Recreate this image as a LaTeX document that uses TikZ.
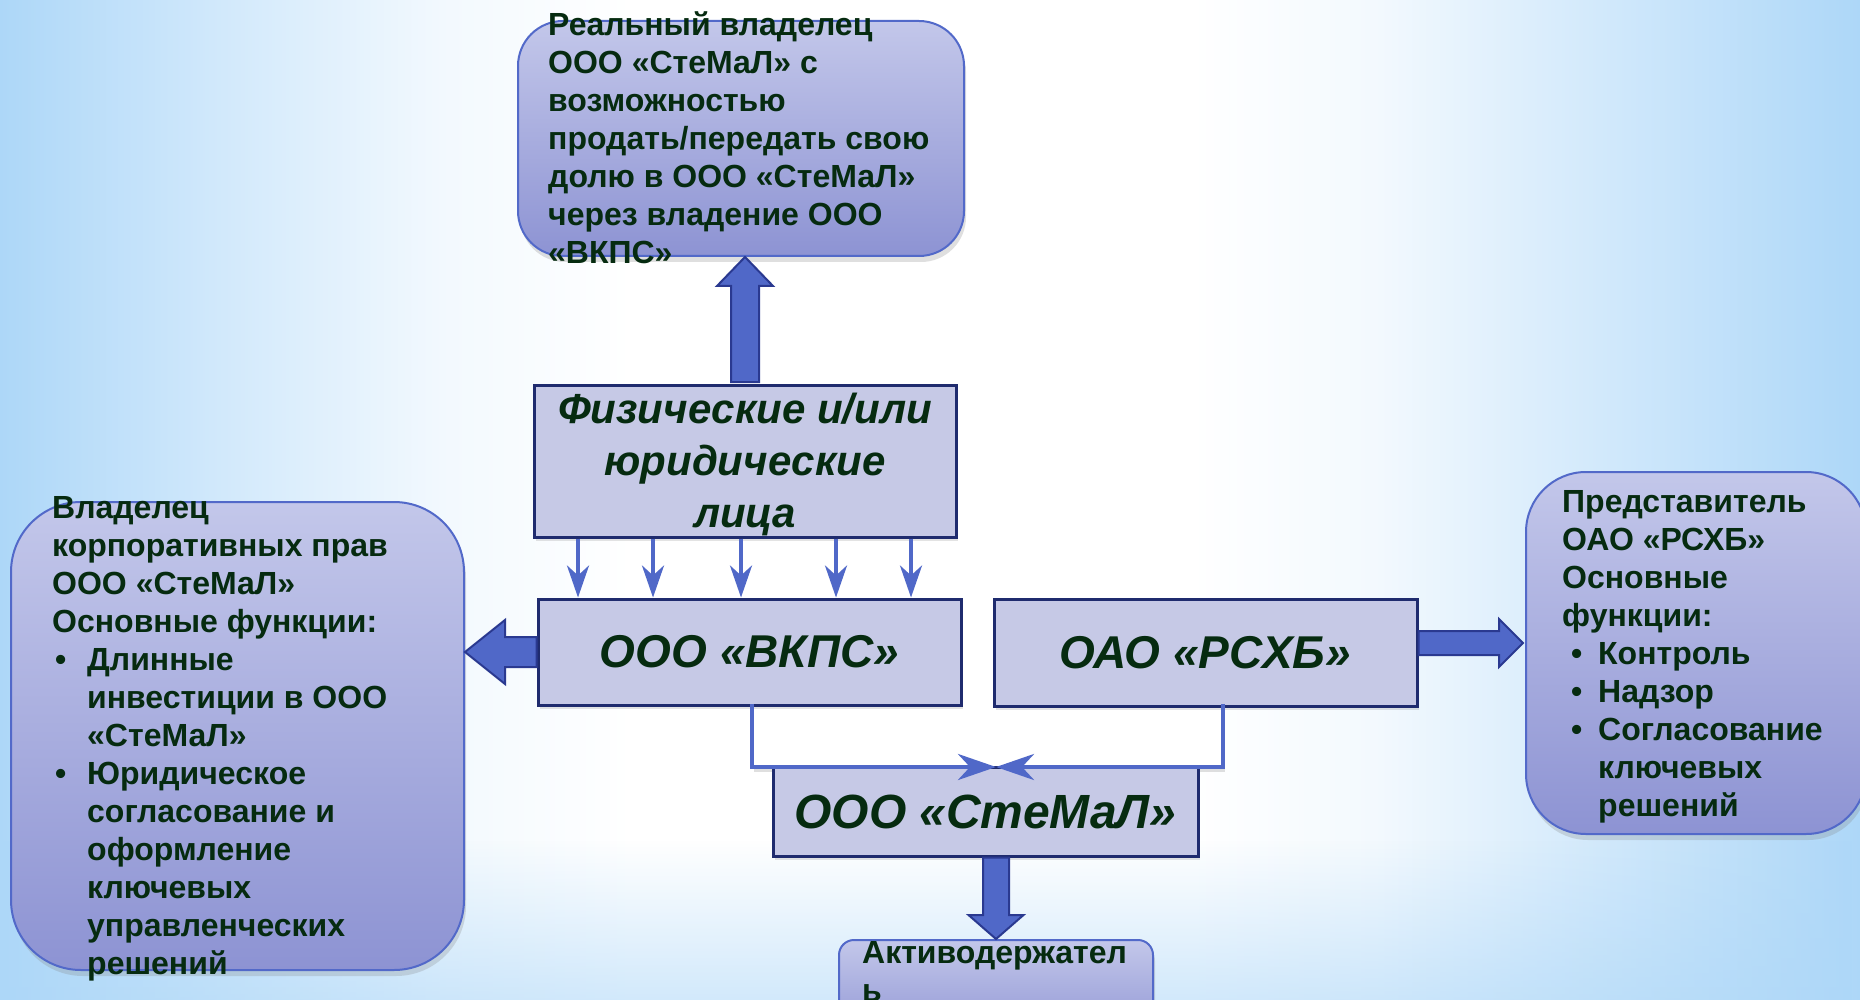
\documentclass[tikz,border=0pt]{standalone}
\usepackage{fontspec}
\setmainfont{Liberation Sans}
\usetikzlibrary{arrows.meta,shadows,calc,fadings}
\definecolor{bgb}{HTML}{ADD7F8}
\definecolor{rectfill}{HTML}{C6C9E6}
\definecolor{rectborder}{HTML}{1F2B6E}
\definecolor{rtop}{HTML}{C3C7EA}
\definecolor{rbot}{HTML}{8D93D3}
\definecolor{rborder}{HTML}{5269C9}
\definecolor{afill}{HTML}{5068C8}
\definecolor{aborder}{HTML}{2A3990}
\definecolor{txt}{HTML}{062B10}
\colorlet{bgm}{bgb!55!white}
\colorlet{bgl}{bgb!15!white}
\pgfdeclarehorizontalshading{bgshade}{100bp}{color(0bp)=(bgb); color(25bp)=(bgb); color(31bp)=(bgm); color(37bp)=(bgl); color(42bp)=(white); color(57bp)=(white); color(62bp)=(bgl); color(68bp)=(bgm); color(75bp)=(bgb); color(100bp)=(bgb)}
\begin{document}
\begin{tikzpicture}[x=1pt,y=-1pt,
  rectbox/.style={draw=rectborder, line width=3pt, fill=rectfill, inner sep=0pt,
     drop shadow={shadow xshift=2pt, shadow yshift=-4pt, opacity=.22}},
  rbox/.style={draw=rborder, line width=2pt, top color=rtop, bottom color=rbot, inner sep=0pt,
     drop shadow={shadow xshift=2pt, shadow yshift=-6pt, opacity=.25}},
  big/.style={font=\fontsize{46}{54}\selectfont\bfseries\itshape, text=txt},
  body/.style={font=\fontsize{32}{38}\selectfont\bfseries, text=txt, align=left, inner sep=0pt, anchor=north west},
  barrow/.style={draw=aborder, line width=2pt, fill=afill, line join=miter},
  conn/.style={draw=afill, line width=4.5pt},
  tarrow/.style={draw=afill, line width=4pt, -{Stealth[length=32pt,width=22pt,inset=10pt]}},
  carrow/.style={draw=afill, line width=4.5pt, -{Stealth[length=38pt,width=26pt,inset=12pt]}}
]
\useasboundingbox (0,0) rectangle (1860,1000);
\begin{scope}
\clip (0,0) rectangle (1860,1000);
\shade[shading=bgshade] (0,0) rectangle (1860,1000);
\fill[bgb, opacity=.55, path fading=north] (0,840) rectangle (1860,1000);

% rounded boxes
\node[rbox, rounded corners=45pt, minimum width=446pt, minimum height=235pt] (top) at (741,138.5) {};
\node[rbox, rounded corners=70pt, minimum width=453pt, minimum height=468pt] (lbox) at (237.5,736) {};
\node[rbox, rounded corners=60pt, minimum width=340pt, minimum height=362pt] (rbox) at (1696,653) {};
\node[rbox, rounded corners=15pt, minimum width=314pt, minimum height=105pt] (akt) at (996,992.5) {};

% white area of bracket
\coordinate (b1) at (752,705);
\coordinate (b4) at (1223,767);
\fill[white, drop shadow={shadow xshift=2pt, shadow yshift=-5pt, opacity=.25}] (b1) rectangle (b4);

% rectangles
\node[rectbox, minimum width=422pt, minimum height=152pt] (fiz) at (745,461) {};
\node[font=\fontsize{42}{52}\selectfont\bfseries\itshape, text=txt, align=center, anchor=north, inner sep=0pt] (fiztext) at (745,386.6) {\strut Физические и/или\\юридические\\лица};
\node[rectbox, big, minimum width=423pt, minimum height=106pt] (vkps) at (749.5,652) {ООО «ВКПС»};
\node[rectbox, big, minimum width=423pt, minimum height=107pt] (rshb) at (1205.5,652.5) {ОАО «РСХБ»};
\node[rectbox, big, font=\fontsize{48}{56}\selectfont\bfseries\itshape, minimum width=425pt, minimum height=89pt] (stemal) at (985.5,811.5) {ООО «СтеМаЛ»};

% up block arrow
\coordinate (uT) at (fiz.north |- top.south);
\draw[barrow] ($(fiz.north)+(-14,-1.5)$) -- ($(uT)+(-14,29)$) -- ($(uT)+(-28,29)$) -- (uT) -- ($(uT)+(28,29)$) -- ($(uT)+(14,29)$) -- ($(fiz.north)+(14,-1.5)$) -- cycle;

% left block arrow
\coordinate (lT) at (lbox.east |- vkps.west);
\draw[barrow] ($(vkps.west)+(0,-15)$) -- ($(lT)+(40,-15)$) -- ($(lT)+(40,-32)$) -- (lT) -- ($(lT)+(40,32)$) -- ($(lT)+(40,15)$) -- ($(vkps.west)+(0,15)$) -- cycle;

% right block arrow
\coordinate (rS) at ($(rshb.east)+(0,-9.5)$);
\coordinate (rT) at ($(rbox.west |- rS)+(-2,0)$);
\draw[barrow] ($(rS)+(0,-12)$) -- ($(rT)+(-24,-12)$) -- ($(rT)+(-24,-24)$) -- (rT) -- ($(rT)+(-24,24)$) -- ($(rT)+(-24,12)$) -- ($(rS)+(0,12)$) -- cycle;

% down block arrow
\coordinate (dS) at (akt.north |- stemal.south);
\draw[barrow] ($(dS)+(-13,0)$) -- ($(akt.north)+(-13,-24)$) -- ($(akt.north)+(-27.5,-24)$) -- (akt.north) -- ($(akt.north)+(27.5,-24)$) -- ($(akt.north)+(13,-24)$) -- ($(dS)+(13,0)$) -- cycle;

% thin arrows
\foreach \xx in {578,653,741,836,911}
  \draw[tarrow] (\xx,0 |- fiz.south) -- (\xx,0 |- vkps.north);

% bracket
\coordinate (b2) at (b1 |- b4);
\coordinate (b3) at (b4 |- b1);
\coordinate (bm) at (akt.north |- b4);
\draw[conn, line join=miter] ($(b1)+(0,-1)$) -- (b2) -- ($(b2)+(8,0)$);
\draw[carrow] ($(b2)+(6,0)$) -- (bm);
\draw[conn, line join=miter] ($(b3)+(0,-1)$) -- (b4) -- ($(b4)+(-8,0)$);
\draw[carrow] ($(b4)+(-6,0)$) -- (bm);

% texts
\node[body] (toptext) at (548,8.4) {\strut Реальный владелец\\ООО «СтеМаЛ» с\\возможностью\\продать/передать свою\\долю в ООО «СтеМаЛ»\\через владение ООО\\«ВКПС»};
\node[body] (ltext) at (52,491.4) {\strut Владелец\\корпоративных прав\\ООО «СтеМаЛ»\\Основные функции:\\\makebox[35pt][l]{\hspace*{3pt}\textbullet}Длинные\\\hspace*{35pt}инвестиции в ООО\\\hspace*{35pt}«СтеМаЛ»\\\makebox[35pt][l]{\hspace*{3pt}\textbullet}Юридическое\\\hspace*{35pt}согласование и\\\hspace*{35pt}оформление\\\hspace*{35pt}ключевых\\\hspace*{35pt}управленческих\\\hspace*{35pt}решений};
\node[body] (rtext) at (1562,485.4) {\strut Представитель\\ОАО «РСХБ»\\Основные\\функции:\\\makebox[36pt][l]{\hspace*{9pt}\textbullet}Контроль\\\makebox[36pt][l]{\hspace*{9pt}\textbullet}Надзор\\\makebox[36pt][l]{\hspace*{9pt}\textbullet}Согласование\\\hspace*{36pt}ключевых\\\hspace*{36pt}решений};
\node[body] (akttext) at (862,936.4) {\strut Активодержател\\ь};
\end{scope}
\end{tikzpicture}
\end{document}
